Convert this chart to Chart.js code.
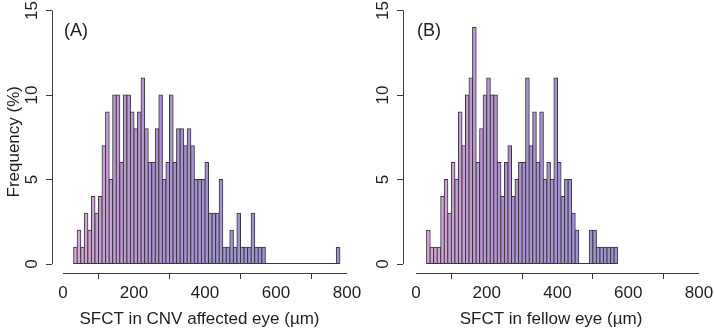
<!DOCTYPE html>
<html><head><meta charset="utf-8">
<script src="https://cdn.jsdelivr.net/npm/chart.js@4.4.1/dist/chart.umd.min.js"></script>
<style>
html,body{margin:0;padding:0;background:#fff;}
#wrap{position:relative;width:714px;height:332px;overflow:hidden;background:#fff;}
canvas{position:absolute;top:0;}
</style></head><body>
<div id="wrap">
<canvas id="cA" width="380" height="332" style="left:0px"></canvas>
<canvas id="cB" width="354" height="332" style="left:360px"></canvas>
</div>
<script>
// ---- data (bin centres in µm, frequency in %) ----
const binsA = [35,45,55,65,75,85,95,105,115,125,135,145,155,165,175,185,195,205,215,225,235,245,255,265,275,285,295,305,315,325,335,345,355,365,375,385,395,405,415,425,435,445,455,465,475,485,495,505,515,525,535,545,555,565,575,585,595,605,615,625,635,645,655,665,675,685,695,705,715,725,735,745,755,765,775];
const freqA = [1,2,1,3,2,4,3,4,7,9, 5,10,10,6,10,10,9,8,9,11, 8,6,6,8,10,5,6,10,6,8, 8,7,8,7,5,5,5,6,3,3, 3,5,1,1,2,1,3,1,1,1, 3,1,1,1, 0,0,0,0,0,0,0,0,0,0, 0,0,0,0,0,0,0,0,0,0, 1];
const binsB = [35,45,55,65,75,85,95,105,115,125,135,145,155,165,175,185,195,205,215,225,235,245,255,265,275,285,295,305,315,325,335,345,355,365,375,385,395,405,415,425,435,445,455,465,475,485,495,505,515,525,535,545,555,565];
const freqB = [2,1,1,1,4,5,3,6,5,9, 7,10,11,14,6,8,10,11,10,10, 6,4,6,7,4,5,6,6,11,7, 9,6,9,5,6,5,11,6,4,5, 5,3,2,0,0,0,2,2,1,1, 1,1,1,1];
const xTicks = [0,200,400,600,800];
const yTicks = [0,5,10,15];
const xTitleA = 'SFCT in CNV affected eye (\u00b5m)';
const xTitleB = 'SFCT in fellow eye (\u00b5m)';
const yTitle = 'Frequency (%)';
const labelA = '(A)';
const labelB = '(B)';

const FONT = "'Liberation Sans', Arial, Helvetica, sans-serif";
const TXT = '#1e1e1e';
const AX = '#3a3a3a';
const EDGE = '#3a3444';

function barColor(v){
  const stops = [[30,[214,170,212]],[250,[178,146,206]],[560,[150,150,204]]];
  if (v <= stops[0][0]) return 'rgb('+stops[0][1].join(',')+')';
  for (let i=1;i<stops.length;i++){
    if (v <= stops[i][0]){
      const t=(v-stops[i-1][0])/(stops[i][0]-stops[i-1][0]);
      const c=stops[i-1][1].map((a,k)=>Math.round(a+(stops[i][1][k]-a)*t));
      return 'rgb('+c.join(',')+')';
    }
  }
  return 'rgb('+stops[stops.length-1][1].join(',')+')';
}

const rAxes = {
  id:'rAxes',
  afterDatasetsDraw(chart, args, opts){
    const {ctx, scales:{x,y}} = chart;
    const bins = opts.bins;
    const half = (bins[1]-bins[0])/2;
    ctx.save();
    ctx.strokeStyle = EDGE; ctx.lineWidth = 1;
    const y0 = Math.round(y.getPixelForValue(0))-0.5;
    ctx.beginPath();
    ctx.moveTo(x.getPixelForValue(bins[0]-half), y0);
    ctx.lineTo(x.getPixelForValue(bins[bins.length-1]+half), y0);
    ctx.stroke();
    ctx.restore();
  },
  afterDraw(chart, args, opts){
    const {ctx, chartArea, scales:{x,y}} = chart;
    ctx.save();
    ctx.strokeStyle = AX; ctx.lineWidth = 1;
    const yb = Math.round(chartArea.bottom)+0.5;
    ctx.beginPath();
    ctx.moveTo(x.getPixelForValue(xTicks[0]), yb);
    ctx.lineTo(x.getPixelForValue(xTicks[xTicks.length-1]), yb);
    ctx.stroke();
    const xl = Math.round(chartArea.left)+0.5;
    ctx.beginPath();
    ctx.moveTo(xl, y.getPixelForValue(yTicks[0]));
    ctx.lineTo(xl, y.getPixelForValue(yTicks[yTicks.length-1]));
    ctx.stroke();
    ctx.fillStyle = TXT;
    ctx.font = '17px ' + FONT;
    ctx.textAlign = 'center'; ctx.textBaseline = 'middle';
    yTicks.forEach(v=>{
      ctx.save();
      ctx.translate(chartArea.left - 20, y.getPixelForValue(v));
      ctx.rotate(-Math.PI/2);
      ctx.fillText(String(v), 0, 0);
      ctx.restore();
    });
    ctx.textAlign = 'left';
    ctx.font = '18px ' + FONT;
    ctx.fillText(opts.label, x.getPixelForValue(0)+1, y.getPixelForValue(13.8));
    ctx.restore();
  }
};

function makeChart(id, bins, freq, cfg){
  const data = bins.map((b,i)=>({x:b, y:freq[i]}));
  return new Chart(document.getElementById(id), {
    type:'bar',
    data:{ datasets:[{
      data,
      backgroundColor: c => barColor(c.raw ? c.raw.x : 0),
      borderColor:EDGE,
      borderWidth:1,
      borderSkipped:false,
      inflateAmount:0.5,
      barPercentage:1,
      categoryPercentage:1
    }]},
    plugins:[rAxes],
    options:{
      responsive:false,
      animation:false,
      devicePixelRatio:1,
      layout:{padding:{left:0,right:cfg.padRight,top:10.5,bottom:0}},
      plugins:{legend:{display:false},tooltip:{enabled:false},rAxes:{label:cfg.label, bins:bins}},
      scales:{
        x:{
          type:'linear', min:cfg.xMin, max:800, offset:false,
          border:{display:false},
          grid:{display:true, drawOnChartArea:false, drawTicks:true, tickLength:6, color:AX, lineWidth:1},
          ticks:{color:TXT, font:{family:FONT,size:17}, padding:4, maxRotation:0, autoSkip:false},
          afterBuildTicks: s => { s.ticks = xTicks.map(v=>({value:v})); },
          afterFit: s => { s.height = 59; s.paddingLeft = 0; s.paddingRight = 0; },
          title:{display:true, text:cfg.xTitle, color:TXT, font:{family:FONT,size:17}, padding:{top:0,bottom:2}}
        },
        y:{
          type:'linear', min:-0.53, max:15,
          border:{display:false},
          grid:{display:true, drawOnChartArea:false, drawTicks:true, tickLength:6, color:AX, lineWidth:1},
          ticks:{display:false},
          afterBuildTicks: s => { s.ticks = yTicks.map(v=>({value:v})); },
          afterFit: s => { s.width = cfg.yWidth; s.paddingTop = 0; s.paddingBottom = 0; },
          title:{display:cfg.yTitle, text:yTitle, color:TXT, font:{family:FONT,size:17}, padding:{top:4,bottom:0}}
        }
      }
    }
  });
}

makeChart('cA', binsA, freqA, {padRight:33, xMin:-31, yWidth:52, xTitle:xTitleA, yTitle:true, label:labelA});
makeChart('cB', binsB, freqB, {padRight:15, xMin:-36.7, yWidth:43, xTitle:xTitleB, yTitle:false, label:labelB});
</script>
</body></html>
